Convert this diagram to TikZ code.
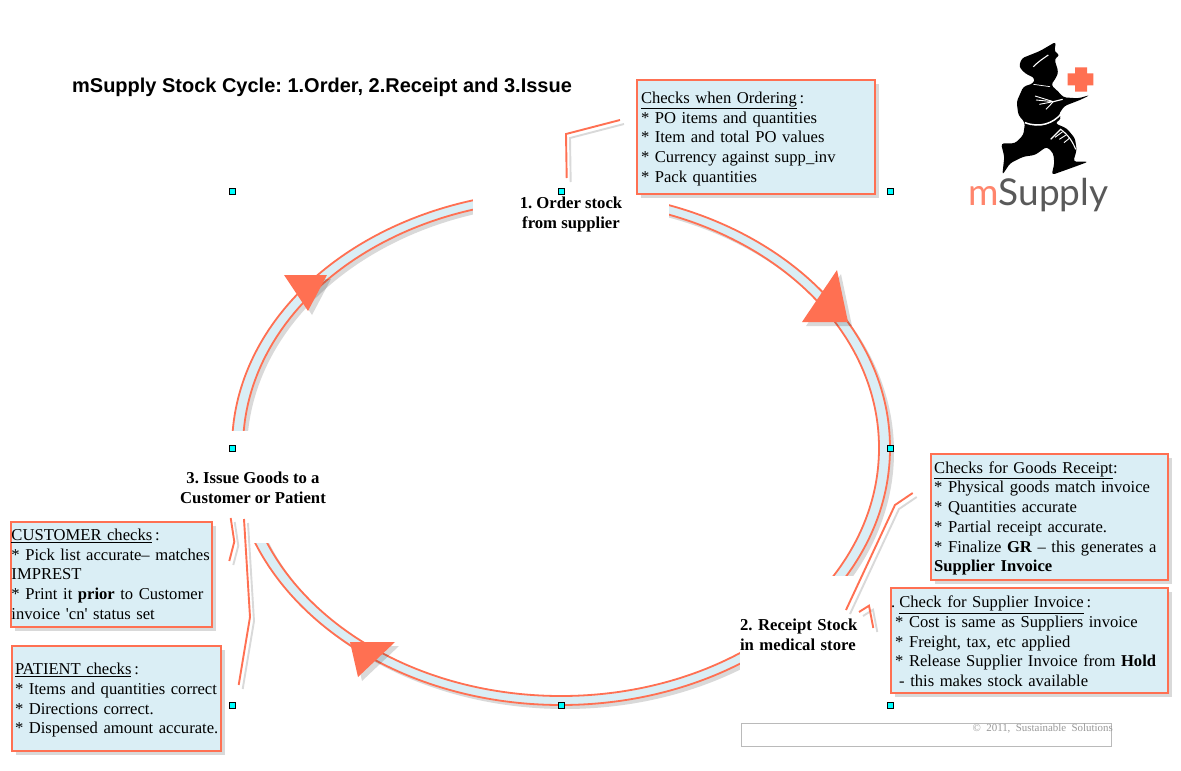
\documentclass[tikz,border=0pt]{standalone}
\usepackage{fontspec}
\setmainfont{Liberation Serif}
\newfontfamily\titlef{Liberation Sans}
\newfontfamily\logof{Lato}
\usetikzlibrary{shadows}
\frenchspacing
\definecolor{coral}{HTML}{FF7052}
\definecolor{bandc}{HTML}{DAEEF5}
\definecolor{graysh}{HTML}{D9D9D9}
\definecolor{handlec}{HTML}{00FFFF}
\tikzset{
  x=1pt,y=-1pt,
  checkbox/.style={draw=coral,line width=2.2pt,fill=bandc,anchor=north west,align=left,inner ysep=0pt,outer sep=0pt,
    font=\fontsize{16.6}{19.7}\selectfont,
    drop shadow={fill=black,opacity=.15,shadow xshift=4pt,shadow yshift=-4pt}},
  steplabel/.style={fill=white,inner sep=0pt,outer sep=0pt,font=\fontsize{16.7}{19.7}\selectfont\bfseries},
  handle/.style={draw=black,fill=handlec,line width=.9pt,minimum size=6pt,inner sep=0pt},
  callout/.style={draw=coral,line width=1.9pt},
  calloutsh/.style={draw=graysh,line width=1.9pt},
  arrowtri/.style={fill=coral},
  arrowsh/.style={fill=black,opacity=.15},
  bandline/.style={draw=coral,line width=1.8pt},
}
\newcommand{\calloutpath}[3]{%
  \draw[calloutsh] ([shift={(4,4)}]#1) -- ([shift={(4,4)}]#2) -- ([shift={(4,4)}]#3);
  \draw[callout] (#1) -- (#2) -- (#3);}
\newcommand{\cl}[1]{\mbox{#1}}
\newcommand{\topstrut}[1]{\rule{0pt}{#1pt}}
\begin{document}
\begin{tikzpicture}
\useasboundingbox (0,0) rectangle (1181,771);
\fill[white] (0,0) rectangle (1181,771);
% ring
\coordinate (ctr) at (561,448);
\coordinate (ctrs) at (565,452);
\fill[graysh,even odd rule] (ctrs) ellipse [x radius=329pt,y radius=257pt] (ctrs) ellipse [x radius=318pt,y radius=248pt];
\fill[bandc,even odd rule] (ctr) ellipse [x radius=329pt,y radius=257pt] (ctr) ellipse [x radius=318pt,y radius=248pt];
\draw[bandline] (ctr) ellipse [x radius=329pt,y radius=257pt];
\draw[bandline] (ctr) ellipse [x radius=318pt,y radius=248pt];
% arrowheads
\fill[arrowsh] (841,274) -- (806,326) -- (852,326) -- cycle;
\fill[arrowtri] (837,270) -- (802,322) -- (848,322) -- cycle;
\fill[arrowsh] (288,279) -- (331,279) -- (312,315) -- cycle;
\fill[arrowtri] (284,275) -- (327,275) -- (308,311) -- cycle;
\fill[arrowsh] (354,646) -- (399,646) -- (362,681) -- cycle;
\fill[arrowtri] (350,642) -- (395,642) -- (358,677) -- cycle;
% step labels (white panels interrupt the ring)
\node[steplabel,align=center,minimum width=196pt,minimum height=58pt] (s1) at (571,214.5) {1. Order stock\\from supplier};
\node[steplabel,align=left,text width=130pt,minimum height=118pt,anchor=west] (s2) at (740,635) {2. Receipt Stock\\in medical store};
\node[steplabel,align=center,minimum width=180pt,minimum height=112pt] (s3) at (253,487) {\topstrut{13.5}3. Issue Goods to a\\Customer or Patient};
% handles
\foreach \hn/\hx/\hy in {h1/232/191,h2/561/191,h3/890/191,h4/232/448,h5/890/448,h6/232/705,h7/561/705,h8/890/705}
  \node[handle] (\hn) at (\hx,\hy) {};
% callouts
\coordinate (oa) at (566.7,178); \coordinate (ob) at (566,134); \coordinate (oc) at (620,120);
\calloutpath{oa}{ob}{oc}
\coordinate (ga) at (846,610); \coordinate (gb) at (895,505); \coordinate (gc) at (912.7,493);
\calloutpath{ga}{gb}{gc}
\coordinate (ia) at (859,612); \coordinate (ib) at (869,605.7); \coordinate (ic) at (873.3,628);
\calloutpath{ia}{ib}{ic}
\coordinate (ca) at (230.7,518); \coordinate (cb) at (234.3,541.7); \coordinate (cc) at (229.3,561);
\calloutpath{ca}{cb}{cc}
\coordinate (pa) at (244,519); \coordinate (pb) at (250,617); \coordinate (pc) at (238.7,685);
\calloutpath{pa}{pb}{pc}
% title
\node[anchor=base west,inner sep=0pt,font=\titlef\bfseries\fontsize{19.98}{22}\selectfont] (title) at (72,92) {mSupply Stock Cycle: 1.Order, 2.Receipt and 3.Issue};
% check boxes
\node[checkbox,inner xsep=4pt,text width=230pt,minimum height=114pt] (order) at (637,80) {\topstrut{15.5}\underline{Checks when Ordering}\,:\\{}* PO items and quantities\\{}* Item and total PO values\\{}* Currency against supp\_inv\\{}* Pack quantities};
\node[checkbox,inner xsep=3.5pt,text width=230.5pt,minimum height=126pt] (goods) at (930.7,454) {\topstrut{14.5}\underline{Checks for Goods Receipt}:\\{}* Physical goods match invoice\\{}* Quantities accurate\\{}* Partial receipt accurate.\\{}* Finalize \textbf{GR} -- this generates a\\\textbf{Supplier Invoice}};
\node[checkbox,inner xsep=.5pt,text width=276pt,minimum height=105pt] (supinv) at (890.7,588) {\topstrut{13.5}.\hspace{4pt}\underline{Check for Supplier Invoice}\,:\\\hspace*{4pt}* Cost is same as Suppliers invoice\\\hspace*{4pt}* Freight, tax, etc applied\\\hspace*{4pt}* Release Supplier Invoice from \textbf{Hold}\\\hspace*{8pt}- this makes stock available};
\node[checkbox,inner xsep=.5pt,text width=200pt,minimum height=105pt] (cust) at (11,521.7) {\underline{CUSTOMER checks}\,:\\\cl{* Pick list accurate-- matches}\\IMPREST\\\cl{* Print it \textbf{prior} to Customer}\\invoice \textquotesingle cn\textquotesingle\ status set};
\node[checkbox,inner xsep=3pt,text width=203pt,minimum height=105pt] (pat) at (12,645.7) {\topstrut{15.5}\underline{PATIENT checks}\,:\\\cl{* Items and quantities correct}\\\cl{* Directions correct.}\\\cl{* Dispensed amount accurate.}};
% footer
\node[draw=black!27,line width=.8pt,anchor=north west,minimum width=370pt,minimum height=23.5pt,inner sep=0pt] (foot) at (741.3,722.7) {};
\node[anchor=east,inner sep=0pt,text=black!40,font=\fontsize{10.9}{13}\selectfont] (footer) at (1113,729) {©\ \ 2011,\ \ Sustainable\ \ Solutions};
% logo
\begin{scope}[shift={(940,20)},scale=1/3]
\fill[black,rounded corners=3pt] (348,65) -- (343,95) -- (360,105) -- (343,117) -- (355,155) -- (350,170) -- (340,185) -- (333,195) -- (355,215) -- (370,232) -- (415,235) -- (450,225) -- (420,240) -- (373,258) -- (355,285) -- (365,295) -- (345,310) -- (380,325) -- (405,355) -- (410,390) -- (400,425) -- (445,425) -- (405,440) -- (335,465) -- (343,430) -- (340,400) -- (320,380) -- (285,405) -- (250,410) -- (210,430) -- (187,465) -- (193,410) -- (183,370) -- (225,370) -- (250,345) -- (255,308) -- (235,285) -- (230,245) -- (250,200) -- (280,190) -- (285,175) -- (255,160) -- (237,140) -- (245,115) -- (300,93) -- cycle;
\draw[white,line width=1.1pt] (280,140) .. controls (295,125) and (310,115) .. (325,105);
\draw[white,line width=.7pt] (280,193) -- (330,200);
\draw[white,line width=.9pt] (340,245) -- (285,228);
\draw[white,line width=.9pt] (340,245) -- (288,240);
\draw[white,line width=.9pt] (340,245) -- (298,253);
\draw[white,line width=.9pt] (340,245) -- (318,268);
\draw[white,line width=1.2pt] (340,245) -- (368,238);
\draw[white,line width=1.5pt] (255,308) .. controls (300,325) and (340,310) .. (365,280);
\draw[white,line width=1.1pt] (332,358) -- (362,328) .. controls (385,345) and (398,365) .. (407,388);
\draw[white,line width=.9pt] (345,352) -- (368,335);
\draw[white,line width=.9pt] (358,358) -- (378,345);
\draw[white,line width=.9pt] (372,368) -- (388,355);
\fill[coral] (405,142) -- (441,142) -- (441,160) -- (460,160) -- (460,196) -- (441,196) -- (441,215) -- (405,215) -- (405,196) -- (383,196) -- (383,160) -- (405,160) -- cycle;
\end{scope}
\node[anchor=base west,inner sep=0pt,font=\logof\fontsize{37}{40}\selectfont,text=black!65] (logo) at (968,205) {\textcolor{coral!85}{m}Supply};
\end{tikzpicture}
\end{document}
